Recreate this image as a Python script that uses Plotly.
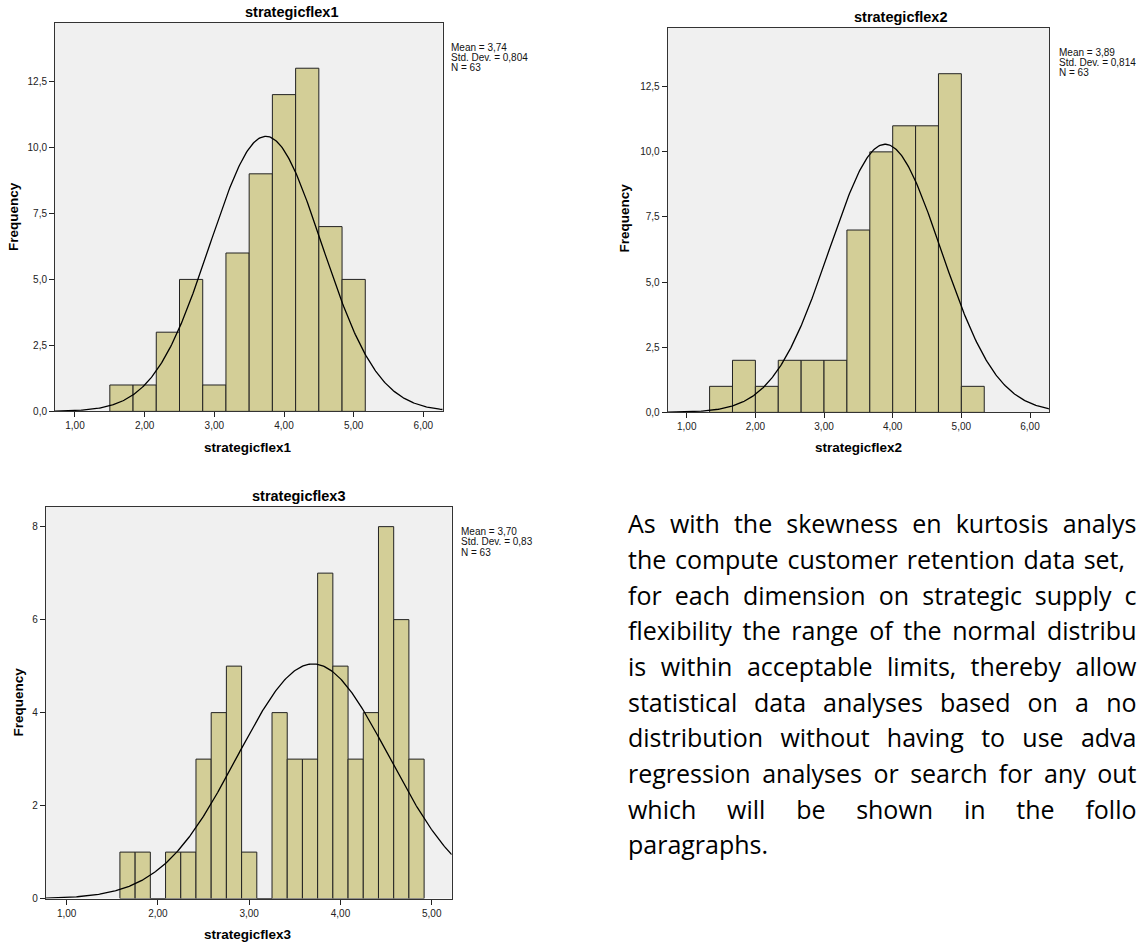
import numpy as np
import plotly.graph_objects as go

W, H = 1137, 951

# ---------------- data ----------------
titles = ["strategicflex1", "strategicflex2", "strategicflex3"]
counts1 = [1, 1, 3, 5, 1, 6, 9, 12, 13, 7, 5]
counts2 = [1, 2, 1, 2, 2, 2, 7, 10, 11, 11, 13, 1]
counts3 = [1, 1, 0, 1, 1, 3, 4, 5, 1, 0, 4, 3, 3, 7, 5, 3, 4, 8, 6, 3]
bin_first_edge = [1.5, 4 / 3, 19 / 12]
bin_width = [1 / 3, 1 / 3, 1 / 6]
means = [3.74, 3.89, 3.70]
std_devs = [0.804, 0.814, 0.83]
n_obs = [63, 63, 63]
stat_labels = [
    ["Mean = 3,74", "Std. Dev. = 0,804", "N = 63"],
    ["Mean = 3,89", "Std. Dev. = 0,814", "N = 63"],
    ["Mean = 3,70", "Std. Dev. = 0,83", "N = 63"],
]
x_tickvals = [[1, 2, 3, 4, 5, 6], [1, 2, 3, 4, 5, 6], [1, 2, 3, 4, 5]]
x_ticktext = [["1,00", "2,00", "3,00", "4,00", "5,00", "6,00"],
              ["1,00", "2,00", "3,00", "4,00", "5,00", "6,00"],
              ["1,00", "2,00", "3,00", "4,00", "5,00"]]
y_tickvals = [[0, 2.5, 5, 7.5, 10, 12.5], [0, 2.5, 5, 7.5, 10, 12.5], [0, 2, 4, 6, 8]]
y_ticktext = [["0,0", "2,5", "5,0", "7,5", "10,0", "12,5"],
              ["0,0", "2,5", "5,0", "7,5", "10,0", "12,5"],
              ["0", "2", "4", "6", "8"]]
all_counts = [counts1, counts2, counts3]

para_lines = [
    "As with the skewness en kurtosis analys",
    "the compute customer retention data set,",
    "for each dimension on strategic supply c",
    "flexibility the range of the normal distribu",
    "is within acceptable limits, thereby allow",
    "statistical data analyses based on a no",
    "distribution without having to use adva",
    "regression analyses or search for any out",
    "which will be shown in the follo",
    "paragraphs.",
]

# ---------------- layout geometry (pixels) ----------------
plot_px = [  # left, right, top, bottom
    (55, 442.7, 22.7, 414),
    (667.7, 1049.3, 28.3, 415),
    (45.7, 451.7, 510, 904.3),
]
x_ranges = [[0.713, 6.278], [0.723, 6.281], [0.770, 5.219]]
y_ranges = [[0, 14.73], [0, 14.75], [0, 8.427]]
title_pos = [(291.7, 11.7), (901, 16.7), (299.3, 499)]
xtitle_pos = [(248, 450.7), (858.3, 450.7), (248.3, 940.5)]
ytitle_pos = [(13.3, 218), (625, 220), (18.3, 706.7)]
stats_pos = [(449.3, [47.7, 58, 68.3]), (1056.7, [52.7, 62.7, 72.7]), (459.3, [535, 545.3, 555.6])]

# paragraph layout: left edge, right edge per line (None = natural spacing)
PARA_FONT = "Open Sans, sans-serif"
PARA_SIZE = 25
para_left = 628
line_right = [1136.5, 1125, 1136.5, 1136.5, 1136.5, 1136.5, 1136.5, 1136.5, 1136.5, None]
line_y0, line_dy = 530.5, 35.9

# approximate Open Sans advance widths (em)
_adv = dict(a=.556, b=.613, c=.476, d=.613, e=.561, f=.339, g=.548, h=.614, i=.253, j=.253,
            k=.525, l=.253, m=.930, n=.614, o=.604, p=.613, q=.613, r=.408, s=.477, t=.353,
            u=.614, v=.501, w=.778, x=.524, y=.502, z=.477, A=.633)
_adv[","] = .244
_adv["."] = .266
SPACE_EM = .26


def word_width(w):
    return sum(_adv.get(ch, .55) for ch in w) * PARA_SIZE


def px(x):
    return x / W


def py(y):
    return 1 - y / H


BAR_FILL = "rgb(211,206,151)"
PLOT_BG = "#f0f0f0"
CHART_FONT = "Liberation Sans, Arial, sans-serif"

fig = go.Figure()
annotations = []
shapes = []

for i in range(3):
    ax = "" if i == 0 else str(i + 1)
    counts = all_counts[i]
    bw = bin_width[i]
    centers = [bin_first_edge[i] + bw * (k + 0.5) for k in range(len(counts))]
    fig.add_trace(go.Bar(
        x=centers, y=counts, width=[bw] * len(counts),
        marker=dict(color=BAR_FILL, line=dict(color="#222222", width=1)),
        xaxis="x" + ax, yaxis="y" + ax, showlegend=False, hoverinfo="x+y",
    ))
    xs = np.linspace(x_ranges[i][0], x_ranges[i][1], 400)
    mu, sd = means[i], std_devs[i]
    ys = n_obs[i] * bw * np.exp(-0.5 * ((xs - mu) / sd) ** 2) / (sd * np.sqrt(2 * np.pi))
    fig.add_trace(go.Scatter(
        x=xs, y=ys, mode="lines", line=dict(color="#000000", width=1.3),
        xaxis="x" + ax, yaxis="y" + ax, showlegend=False, hoverinfo="skip",
    ))

    l, r, t, b = plot_px[i]
    common = dict(showgrid=False, zeroline=False, showline=True, mirror=True,
                  linecolor="#333333", linewidth=1, ticks="outside", ticklen=5,
                  tickcolor="#222222", tickwidth=1,
                  tickfont=dict(family=CHART_FONT, size=10, color="#222222"))
    fig.layout["xaxis" + ax] = dict(
        domain=[px(l), px(r)], range=x_ranges[i], anchor="y" + ax,
        tickmode="array", tickvals=x_tickvals[i], ticktext=x_ticktext[i], **common)
    fig.layout["yaxis" + ax] = dict(
        domain=[py(b), py(t)], range=y_ranges[i], anchor="x" + ax,
        tickmode="array", tickvals=y_tickvals[i], ticktext=y_ticktext[i], **common)

    # plot-area background
    shapes.append(dict(type="rect", xref="x%s domain" % ax, yref="y%s domain" % ax,
                       x0=0, x1=1, y0=0, y1=1, fillcolor=PLOT_BG, line=dict(width=0), layer="below"))

    annotations.append(dict(x=px(title_pos[i][0]), y=py(title_pos[i][1]), xref="paper", yref="paper",
                            text="<b>%s</b>" % titles[i], showarrow=False, xanchor="center", yanchor="middle",
                            font=dict(family=CHART_FONT, size=14.5, color="#000000")))
    annotations.append(dict(x=px(xtitle_pos[i][0]), y=py(xtitle_pos[i][1]), xref="paper", yref="paper",
                            text="<b>%s</b>" % titles[i], showarrow=False, xanchor="center", yanchor="middle",
                            font=dict(family=CHART_FONT, size=13.5, color="#000000")))
    annotations.append(dict(x=px(ytitle_pos[i][0]), y=py(ytitle_pos[i][1]), xref="paper", yref="paper",
                            text="<b>Frequency</b>", showarrow=False, xanchor="center", yanchor="middle",
                            textangle=-90, font=dict(family=CHART_FONT, size=13.5, color="#000000")))
    sx, sys_ = stats_pos[i]
    for lab, yy in zip(stat_labels[i], sys_):
        annotations.append(dict(x=px(sx), y=py(yy), xref="paper", yref="paper", text=lab,
                                showarrow=False, xanchor="left", yanchor="middle",
                                font=dict(family=CHART_FONT, size=10, color="#111111")))

# paragraph text, justified word by word, on a hidden pixel-space overlay axis
wx, wy, wt, wpos = [], [], [], []
for li, line in enumerate(para_lines):
    words = line.split(" ")
    widths = [word_width(w_) for w_ in words]
    right = line_right[li]
    if right is None or len(words) == 1:
        gap = SPACE_EM * PARA_SIZE
    else:
        gap = (right - para_left - sum(widths)) / (len(words) - 1)
    xcur = para_left
    ycur = line_y0 + li * line_dy
    for k, (w_, wd) in enumerate(zip(words, widths)):
        if right is not None and k == len(words) - 1 and len(words) > 1:
            wx.append(right)
            wpos.append("middle left")
        else:
            wx.append(xcur)
            wpos.append("middle right")
        wy.append(ycur)
        wt.append(w_)
        xcur += wd + gap

fig.add_trace(go.Scatter(
    x=wx, y=wy, text=wt, mode="text", textposition=wpos,
    textfont=dict(family=PARA_FONT, size=PARA_SIZE, color="#000000"),
    xaxis="x4", yaxis="y4", showlegend=False, hoverinfo="skip", cliponaxis=False,
))
fig.layout["xaxis4"] = dict(domain=[0, 1], range=[0, W], visible=False, fixedrange=True, anchor="y4")
fig.layout["yaxis4"] = dict(domain=[0, 1], range=[H, 0], visible=False, fixedrange=True, anchor="x4")

fig.update_layout(
    width=W, height=H, margin=dict(l=0, r=0, t=0, b=0),
    paper_bgcolor="white", plot_bgcolor="rgba(0,0,0,0)",
    annotations=annotations, shapes=shapes, showlegend=False,
)

fig.write_html("out.html")
